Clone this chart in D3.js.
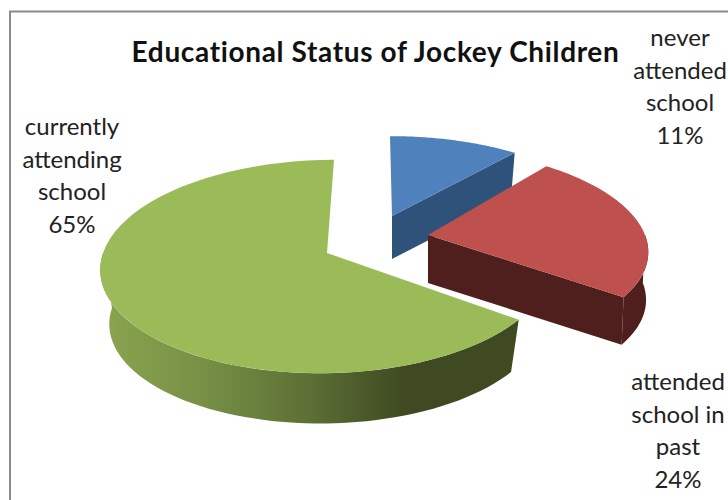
<!DOCTYPE html>
<html><head><meta charset="utf-8">
<script src="https://cdn.jsdelivr.net/npm/d3@7/dist/d3.min.js"></script>
<style>html,body{margin:0;padding:0;background:#fff}svg{display:block}</style>
</head><body><svg id="c" width="728" height="500"></svg>
<script>
const titleText = "Educational Status of Jockey Children";
const categories = ["never attended school", "attended school in past", "currently attending school"];
const values = [11, 24, 65];
const labelLines = [["never","attended","school"],["attended","school in","past"],["currently","attending","school"]];
const topColors = ["#4f81bd","#be504d","#9bbb59"];
const wallColors = ["#2f527a","#4f1f1e","#3f4a22"];
const geometry = [
 {cx:392,cy:216,A:214,B:90,s:2,dy:43,f:0.97},
 {cx:428,cy:235,A:217,B:98,s:10,dy:48,f:0.99},
 {cx:327,cy:253,A:224,B:105,s:-7,dy:55,f:0.96}
];
const labelPos = [[680,46],[678,390],[72,135]];
const k = 0.127, lineGap = 32.7;

const svg = d3.select("#c");
const defs = svg.append("defs");
const grad = defs.append("linearGradient").attr("id","gw").attr("gradientUnits","userSpaceOnUse")
  .attr("x1",101).attr("x2",520).attr("y1",0).attr("y2",0);
[[0,"#8ba44f"],[0.25,"#768f45"],[0.5,"#5c6f35"],[0.72,"#3f4a22"],[1,"#3f4a22"]].forEach(d=>grad.append("stop").attr("offset",d[0]).attr("stop-color",d[1]));

svg.append("path").attr("d","M10,500V11.5H728").attr("fill","none").attr("stroke","#8c8c8c").attr("stroke-width",2);

const arcs = d3.pie().sort(null).value(d=>d)(values);
const line = d3.line();
function proj(g,a,low){
  const u=Math.sin(a), w=-Math.cos(a), d=1-k*w, f=low?g.f:1;
  return [g.cx+f*(g.A*u/d+g.s*w), g.cy+(low?g.dy:0)+f*g.B*w/d];
}
function sweep(a0,a1){ const n=60; return d3.range(n+1).map(i=>a0+(a1-a0)*i/n); }
function apex(g,low){ return [g.cx,g.cy+(low?g.dy:0)]; }
function wallPath(g,a0,a1){
  const t=sweep(a0,a1).map(a=>proj(g,a,false));
  const b=sweep(a0,a1).reverse().map(a=>proj(g,a,true));
  return line(t.concat(b))+"Z";
}
function drawTop(i){
  const g=geometry[i],d=arcs[i];
  svg.append("path").attr("d",line([apex(g,false)].concat(sweep(d.startAngle,d.endAngle).map(a=>proj(g,a,false))))+"Z").attr("fill",topColors[i]);
}
{ const g=geometry[0],d=arcs[0];
  svg.append("path").attr("d",line([apex(g,false),proj(g,d.endAngle,false),proj(g,d.endAngle,true),apex(g,true)])+"Z").attr("fill",wallColors[0]);
  drawTop(0); }
{ const g=geometry[1],d=arcs[1];
  svg.append("path").attr("d",wallPath(g,Math.PI*0.5,d.endAngle)).attr("fill",wallColors[1]);
  svg.append("path").attr("d",line([apex(g,false),proj(g,d.endAngle,false),proj(g,d.endAngle,true),apex(g,true)])+"Z").attr("fill",wallColors[1]);
  drawTop(1); }
{ const g=geometry[2],d=arcs[2];
  svg.append("path").attr("d",wallPath(g,d.startAngle,Math.PI*1.5)).attr("fill","url(#gw)");
  drawTop(2); }

svg.append("text").attr("x",375.5).attr("y",62).attr("text-anchor","middle")
  .attr("font-family","Lato,'Noto Sans',sans-serif").attr("font-weight",700).attr("font-size",28)
  .attr("letter-spacing",0.65).attr("fill","#111").text(titleText);

labelLines.forEach((ls,i)=>{
  const t=svg.append("text").attr("text-anchor","middle").attr("font-family","Lato,'Noto Sans',sans-serif").attr("font-size",24).attr("fill","#222");
  ls.concat([values[i]+"%"]).forEach((s,j)=>t.append("tspan").attr("x",labelPos[i][0]).attr("y",labelPos[i][1]+j*lineGap).text(s));
});
</script></body></html>
